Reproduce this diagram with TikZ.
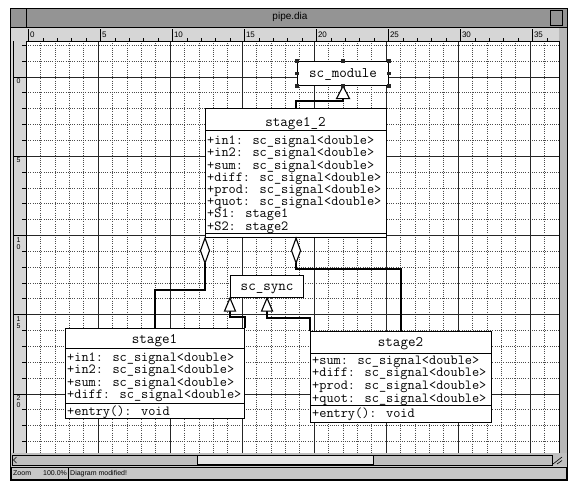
\documentclass[tikz,border=0pt]{standalone}
\usepackage{fontspec}
\newfontfamily\uifont{Liberation Sans}
\usetikzlibrary{calc}
\begin{document}
\begin{tikzpicture}[x=1pt,y=-1pt,
  umlbox/.style={draw=black,line width=1.1pt,fill=white,inner sep=0pt,anchor=north west},
  conn/.style={draw=black,line width=1.4pt},
  tip/.style={draw=black,line width=1.1pt,fill=white,line join=miter},
  sepline/.style={draw=black,line width=0.9pt},
  ttitle/.style={font=\fontsize{14.6}{15}\selectfont\ttfamily,inner sep=0pt,text height=8.6pt,text depth=0pt},
  trow/.style={font=\fontsize{13.9}{14}\selectfont\ttfamily,inner sep=0pt,anchor=west,text height=8.4pt,text depth=0pt},
  gridminor/.style={black!70,line width=0.45pt,dash pattern=on 1pt off 1.2pt},
  gridmajor/.style={black!85,line width=0.55pt},
  ui/.style={font=\fontsize{7}{8}\selectfont\uifont,inner sep=0pt},
  handle/.style={fill=black!85,inner sep=0pt,minimum size=3.6pt},
]
\useasboundingbox (0,0) rectangle (570,485);
\fill[white] (0,0) rectangle (570,485);
% window
\fill[black!22] (10,8) rectangle (567,480);
\fill[black!42] (10,8) rectangle (567,27);
\draw[line width=0.6pt] (10.5,8.5) rectangle (26,27);
\draw[line width=0.6pt] (550,10) rectangle (562,25);
\node[font=\fontsize{10}{11}\selectfont\uifont,inner sep=0pt] (title) at (290,17) {pipe.dia};
% rulers
\fill[black!16] (10,27) rectangle (567,41);
\fill[black!16] (10,41) rectangle (26,453);
\fill[black!28] (559,27) rectangle (567,453);
\draw[line width=0.6pt] (10,27) -- (567,27);
\draw[line width=0.6pt] (13,41) -- (13,453);
\foreach \i in {0,...,36} {\draw[line width=0.5pt] ({28.5+14.4*\i},38) -- ({28.5+14.4*\i},41);}
\foreach \i/\l in {0/0,1/5,2/10,3/15,4/20,5/25,6/30,7/35} {
  \draw[line width=0.6pt] ({28.5+72*\i},29) -- ({28.5+72*\i},41);
  \node[font=\fontsize{8}{9}\selectfont\uifont,inner sep=0pt,anchor=west] (rl\i) at ({29.8+72*\i},34.5) {\l};
}
\foreach \j in {-2,...,23} {\draw[line width=0.5pt] (22,{76.8+15.85*\j}) -- (26,{76.8+15.85*\j});}
\foreach \j in {0,...,4} {\draw[line width=0.6pt] (14,{76.8+79.25*\j}) -- (26,{76.8+79.25*\j});}
\node[ui,anchor=north,align=center,font=\fontsize{7}{7}\selectfont\uifont] (vr0) at (18.5,78.5) {0};
\node[ui,anchor=north,align=center,font=\fontsize{7}{7}\selectfont\uifont] (vr1) at (18.5,157.8) {5};
\node[ui,anchor=north,align=center,font=\fontsize{7}{7}\selectfont\uifont] (vr2) at (18.5,237) {1\\0};
\node[ui,anchor=north,align=center,font=\fontsize{7}{7}\selectfont\uifont] (vr3) at (18.5,316.3) {1\\5};
\node[ui,anchor=north,align=center,font=\fontsize{7}{7}\selectfont\uifont] (vr4) at (18.5,395.5) {2\\0};
% canvas and grid
\fill[white] (26,41) rectangle (559,453);
\begin{scope}
\clip (26,41) rectangle (559,453);
\foreach \i in {0,...,37} {\draw[gridminor] ({26+14.4*\i},41) -- ({26+14.4*\i},453);}
\foreach \j in {-2,...,24} {\draw[gridminor] (26,{76.8+15.85*\j}) -- (559,{76.8+15.85*\j});}
\foreach \i in {0,...,7} {\draw[gridmajor] ({26+72*\i},41) -- ({26+72*\i},453);}
\foreach \j in {0,...,4} {\draw[gridmajor] (26,{76.8+79.25*\j}) -- (559,{76.8+79.25*\j});}
\end{scope}
\draw[line width=0.8pt] (26,41) rectangle (559,453);
% bottom scrollbar
\fill[black!25] (10,453) rectangle (567,466);
\draw[line width=0.6pt] (12,455) rectangle (552,465);
\fill[black!10] (197,455.5) rectangle (373,464.5);
\draw[line width=0.8pt] (197,455.5) rectangle (373,464.5);
\draw[line width=0.6pt] (16.5,457) -- (13.5,460) -- (16.5,463);
\draw[line width=0.6pt] (553,464) -- (562,457);
\draw[line width=0.6pt] (557,464) -- (562,460.5);
% status bar
\draw[line width=0.6pt] (11,467) rectangle (68,479.5);
\draw[line width=0.6pt] (68,467) rectangle (566,479.5);
\node[ui,anchor=west] (zoomlbl) at (13,473.5) {Zoom};
\node[ui,anchor=west] (zoompct) at (43,473.5) {100.0\%};
\node[ui,anchor=west] (status) at (70,473.5) {Diagram modified!};
\draw[line width=1pt] (10,8) rectangle (567,480);

% ---------------- UML diagram ----------------
\node[umlbox,minimum width=91pt,minimum height=24pt] (scm) at (297,61) {};
\node[ttitle] (scmt) at (scm.center) {sc\_module};

\node[umlbox,minimum width=181pt,minimum height=129pt] (s12) at (205,108) {};
\node[ttitle] (s12t) at (295.5,121.7) {stage1\_2};
\draw[sepline] (s12.west |- 0,130.7) -- (s12.east |- 0,130.7);
\foreach \t [count=\k] in {+in1: sc\_signal<double>,+in2: sc\_signal<double>,+sum: sc\_signal<double>,+diff: sc\_signal<double>,+prod: sc\_signal<double>,+quot: sc\_signal<double>,+S1: stage1,+S2: stage2}
  {\node[trow] (s12r\k) at (207,{140.5+12.2*(\k-1)}) {\t};}
\draw[sepline] (s12.west |- 0,233) -- (s12.east |- 0,233);

\node[umlbox,minimum width=73pt,minimum height=22pt] (sync) at (230,275) {};
\node[ttitle] (synct) at (sync.center) {sc\_sync};

\node[umlbox,minimum width=179pt,minimum height=90pt] (st1) at (65,328) {};
\node[ttitle] (st1t) at (154.5,339) {stage1};
\draw[sepline] (st1.west |- 0,348.3) -- (st1.east |- 0,348.3);
\foreach \t [count=\k] in {+in1: sc\_signal<double>,+in2: sc\_signal<double>,+sum: sc\_signal<double>,+diff: sc\_signal<double>}
  {\node[trow] (st1r\k) at (67,{357.3+12.3*(\k-1)}) {\t};}
\draw[sepline] (st1.west |- 0,403.3) -- (st1.east |- 0,403.3);
\node[trow] (st1op) at (67,411) {+entry(): void};

\node[umlbox,minimum width=181pt,minimum height=91pt] (st2) at (310,331) {};
\node[ttitle] (st2t) at (400.5,341.7) {stage2};
\draw[sepline] (st2.west |- 0,353.3) -- (st2.east |- 0,353.3);
\foreach \t [count=\k] in {+sum: sc\_signal<double>,+diff: sc\_signal<double>,+prod: sc\_signal<double>,+quot: sc\_signal<double>}
  {\node[trow] (st2r\k) at (312,{360+12.6*(\k-1)}) {\t};}
\draw[sepline] (st2.west |- 0,405.7) -- (st2.east |- 0,405.7);
\node[trow] (st2op) at (312,413.3) {+entry(): void};

% connectors
\coordinate (g1) at ($(scm.south)+(0,12.5)$);
\draw[conn] (g1) -- ++(0,2.5) -| (s12.north);
\draw[tip] (scm.south) -- ++(-6.5,12.5) -- ++(13,0) -- cycle;

\coordinate (a1) at ($(s12.south west)+(0,25)$);
\draw[conn] (a1) -- ++(0,27) -| (st1.north);
\draw[tip] (s12.south west) -- ++(4.5,12.5) -- ++(-4.5,12.5) -- ++(-4.5,-12.5) -- cycle;

\coordinate (a2) at ($(s12.south)+(0,25)$);
\draw[conn] (a2) -- ++(0,6) -| (st2.north);
\draw[tip] (s12.south) -- ++(4.5,12.5) -- ++(-4.5,12.5) -- ++(-4.5,-12.5) -- cycle;

\coordinate (g2) at ($(sync.south west)+(0,13)$);
\draw[conn] (g2) -- ++(0,6) -| (st1.north east);
\draw[tip] (sync.south west) -- ++(-5.5,13) -- ++(11,0) -- cycle;

\coordinate (g3) at ($(sync.south)+(0,13)$);
\draw[conn] (g3) -- ++(0,7) -| (st2.north west);
\draw[tip] (sync.south) -- ++(-5.5,13) -- ++(11,0) -- cycle;

% selection handles on sc_module
\foreach \p [count=\k] in {north west,north,north east,west,east,south west,south,south east}
  {\node[handle] (h\k) at (scm.\p) {};}
\end{tikzpicture}
\end{document}
